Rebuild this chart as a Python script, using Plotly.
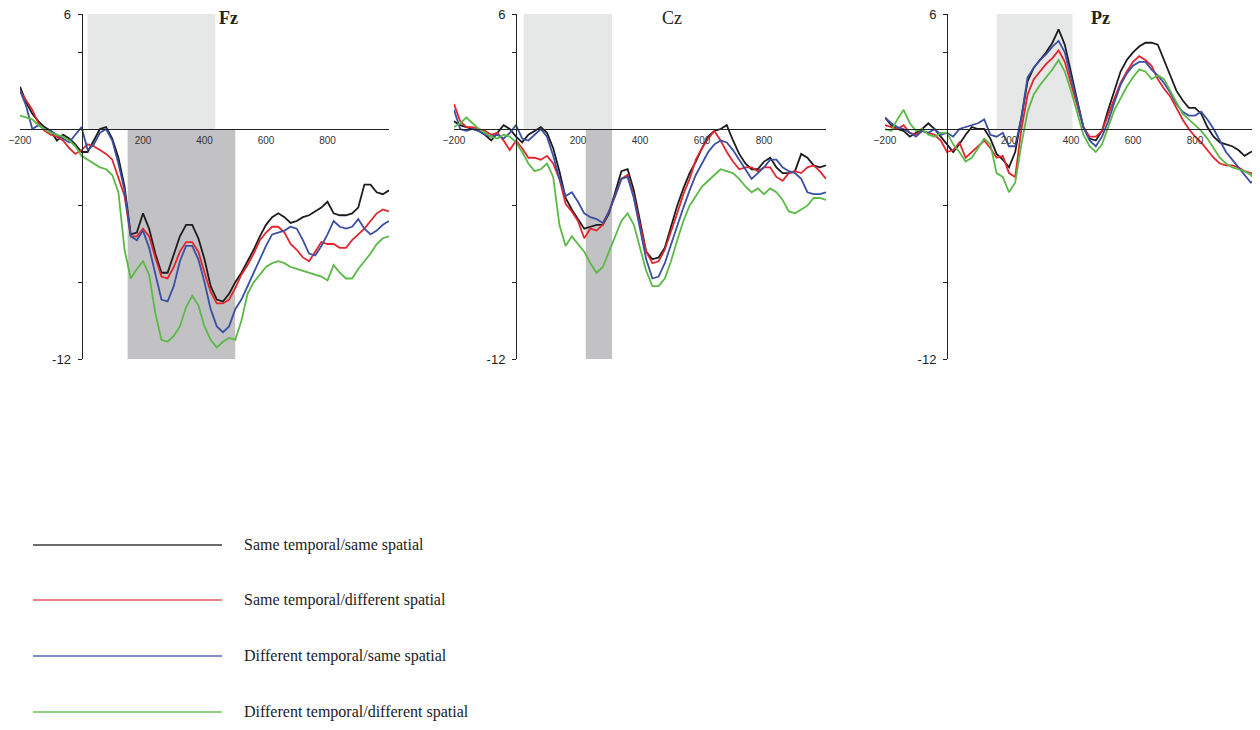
import plotly.graph_objects as go

W, H = 1260, 730
OFF = 8  # page body margin of the html page

TIME = [-200, -180, -160, -140, -120, -100, -80, -60, -40, -20,
        0, 20, 40, 60, 80, 100, 120, 140, 160, 180,
        200, 220, 240, 260, 280, 300, 320, 340, 360, 380,
        400, 420, 440, 460, 480, 500, 520, 540, 560, 580,
        600, 620, 640, 660, 680, 700, 720, 740, 760, 780,
        800, 820, 840, 860, 880, 900, 920, 940, 960, 980, 1000]

SERIES_NAMES = ["Same temporal/same spatial", "Same temporal/different spatial",
                "Different temporal/same spatial", "Different temporal/different spatial"]
COLORS = ["#1c1c1c", "#e3262e", "#3b4fa3", "#5bb947"]
LEGEND_COLORS = ["#3a3a3a", "#e05a5a", "#5a6aac", "#6cbf5c"]

# ---- Fz ----
FZ_SS = [2.2, 1.4, 0.8, 0.4, 0.1, -0.1, -0.6, -0.3, -0.5, -0.8,
         -1.2, -1.2, -0.6, 0.0, 0.1, -0.5, -1.5, -3.0, -5.5, -5.4,
         -4.4, -5.2, -6.5, -7.5, -7.5, -6.6, -5.6, -5.0, -5.0, -5.7,
         -6.8, -8.2, -8.9, -9.0, -8.6, -8.0, -7.5, -6.9, -6.3, -5.6,
         -5.0, -4.6, -4.4, -4.6, -4.9, -4.8, -4.6, -4.5, -4.3, -4.1,
         -3.8, -4.4, -4.5, -4.5, -4.4, -4.1, -2.9, -2.9, -3.3, -3.4, -3.2]
FZ_SD = [2.0, 1.5, 1.0, 0.3, -0.1, -0.3, -0.4, -0.6, -1.0, -1.3,
         -1.1, -0.8, -0.9, -1.1, -1.3, -1.6, -2.5, -3.5, -5.6, -5.6,
         -5.2, -5.6, -6.7, -7.7, -7.8, -7.2, -6.4, -5.9, -5.9, -6.4,
         -7.5, -8.5, -9.1, -9.1, -8.9, -8.3, -7.6, -7.1, -6.5, -5.8,
         -5.4, -5.1, -5.1, -5.4, -6.0, -6.3, -6.7, -6.9, -6.4, -5.9,
         -6.0, -6.0, -6.2, -6.2, -5.8, -5.5, -5.2, -4.8, -4.4, -4.2, -4.3]
FZ_DS = [2.0, 1.2, 0.0, 0.2, 0.0, -0.1, -0.3, -0.5, -0.7, -0.3,
         0.1, -1.1, -0.8, -0.2, 0.0, -0.6, -1.8, -3.2, -5.6, -5.8,
         -5.3, -6.2, -7.6, -8.9, -9.0, -8.2, -6.9, -6.1, -6.1, -6.8,
         -8.0, -9.4, -10.3, -10.6, -10.3, -9.4, -8.9, -8.2, -7.5, -6.8,
         -6.1, -5.5, -5.4, -5.3, -5.1, -5.2, -5.8, -6.5, -6.6, -6.1,
         -5.5, -4.8, -5.1, -5.2, -5.1, -4.7, -5.2, -5.5, -5.3, -5.0, -4.8]
FZ_DD = [0.7, 0.6, 0.5, 0.2, 0.0, -0.2, -0.3, -0.4, -0.6, -0.9,
         -1.4, -1.6, -1.8, -2.0, -2.1, -2.4, -3.3, -6.3, -7.8, -7.3,
         -6.9, -7.6, -9.6, -11.0, -11.1, -10.8, -10.3, -9.3, -8.7, -9.2,
         -10.3, -11.0, -11.4, -11.1, -10.9, -11.0, -10.0, -8.6, -8.0, -7.6,
         -7.2, -7.0, -6.9, -7.0, -7.2, -7.3, -7.4, -7.5, -7.6, -7.7,
         -7.9, -7.1, -7.5, -7.8, -7.8, -7.3, -6.9, -6.5, -6.0, -5.7, -5.6]

# ---- Cz ----
CZ_SS = [0.4, 0.2, 0.1, 0.0, -0.1, -0.3, -0.6, -0.2, 0.2, 0.0,
         -0.4, -0.7, -0.3, -0.1, 0.1, -0.2, -1.0, -2.2, -3.6, -4.2,
         -4.7, -5.2, -5.1, -5.0, -5.0, -4.4, -3.3, -2.2, -2.1, -3.2,
         -4.8, -6.4, -6.8, -6.7, -6.2, -5.1, -4.0, -3.1, -2.3, -1.7,
         -1.0, -0.4, -0.1, 0.0, 0.2, -0.6, -1.3, -1.8, -2.1, -2.1,
         -1.7, -1.5, -2.0, -2.3, -2.3, -2.2, -1.3, -1.5, -1.9, -2.0, -1.9]
CZ_SD = [1.3, 0.4, 0.1, 0.1, 0.0, -0.1, -0.3, -0.2, -0.6, -1.1,
         -0.6, -1.0, -1.5, -1.5, -1.6, -1.4, -1.8, -2.6, -3.9, -4.3,
         -4.8, -5.7, -5.2, -5.3, -5.0, -4.3, -3.5, -2.6, -2.4, -3.5,
         -5.0, -6.4, -7.0, -6.9, -6.3, -5.4, -4.4, -3.4, -2.6, -1.6,
         -1.0, -0.5, -0.1, -0.6, -1.2, -1.7, -2.1, -2.0, -2.0, -2.2,
         -2.0, -2.0, -2.5, -2.7, -2.3, -2.2, -2.3, -2.0, -1.9, -2.2, -2.6]
CZ_DS = [1.0, 0.0, -0.1, 0.0, -0.1, -0.3, -0.4, -0.3, -0.5, -0.2,
         0.2, -0.5, -0.6, -0.3, 0.0, -0.4, -1.4, -2.6, -3.5, -3.3,
         -3.8, -4.4, -4.6, -4.7, -4.9, -4.3, -3.4, -2.6, -2.5, -3.6,
         -5.2, -6.8, -7.8, -7.7, -7.0, -6.0, -5.0, -4.1, -3.2, -2.4,
         -1.8, -1.2, -0.8, -0.6, -0.7, -1.1, -1.6, -2.1, -2.6, -2.3,
         -2.0, -1.6, -1.6, -2.0, -2.2, -2.3, -2.6, -3.3, -3.4, -3.4, -3.3]
CZ_DD = [0.1, 0.3, 0.6, 0.3, 0.0, -0.2, -0.4, -0.5, -0.3, -0.4,
         -0.7, -1.2, -1.8, -2.2, -2.1, -1.8, -2.5, -5.0, -6.1, -5.6,
         -6.0, -6.4, -7.0, -7.5, -7.2, -6.4, -5.5, -4.8, -4.4, -5.0,
         -6.2, -7.4, -8.2, -8.2, -7.8, -6.9, -5.8, -4.8, -4.0, -3.5,
         -3.0, -2.7, -2.4, -2.1, -2.2, -2.3, -2.6, -3.0, -3.3, -3.1,
         -3.4, -3.1, -3.3, -3.7, -4.3, -4.4, -4.2, -4.0, -3.6, -3.6, -3.7]

# ---- Pz ----
PZ_SS = [0.6, 0.2, 0.0, -0.1, -0.4, -0.2, 0.0, 0.3, 0.0, -0.4,
         -0.8, -1.2, -0.8, -0.3, 0.1, 0.0, 0.0, -0.5, -1.3, -1.6,
         -2.0, -1.2, 0.6, 2.5, 3.2, 3.6, 4.0, 4.5, 5.2, 4.4,
         2.9, 1.5, 0.1, -0.5, -0.6, -0.1, 1.0, 2.0, 3.0, 3.6,
         4.0, 4.3, 4.5, 4.5, 4.4, 3.6, 2.8, 2.0, 1.5, 1.1,
         1.1, 0.8, 0.1, -0.4, -0.7, -0.8, -0.9, -1.1, -1.4, -1.2, -1.1]
PZ_SD = [0.2, 0.1, 0.0, 0.2, -0.2, -0.3, -0.1, -0.2, -0.3, -0.6,
         -1.2, -1.1, -0.7, -1.5, -1.2, -0.9, -0.6, -1.0, -1.5, -1.4,
         -2.3, -2.5, 0.0, 1.8, 2.6, 3.0, 3.4, 3.7, 4.1, 3.5,
         2.4, 1.2, 0.1, -0.4, -0.4, -0.1, 0.8, 1.6, 2.4, 3.0,
         3.5, 3.8, 3.6, 3.3, 2.6, 2.1, 1.7, 1.1, 0.5, 0.0,
         -0.4, -0.7, -1.1, -1.5, -1.8, -1.9, -1.9, -2.0, -2.2, -2.3, -2.4]
PZ_DS = [0.6, 0.3, 0.1, 0.0, -0.2, -0.4, -0.1, -0.2, 0.0, -0.3,
         -0.2, -0.4, 0.0, 0.1, 0.2, 0.3, 0.5, -0.3, -0.4, -0.2,
         -0.9, -0.9, 0.6, 2.7, 3.2, 3.6, 3.9, 4.3, 4.6, 4.0,
         2.7, 1.4, 0.1, -0.6, -0.9, -0.4, 0.4, 1.4, 2.3, 2.9,
         3.3, 3.5, 3.5, 3.1, 2.8, 2.4, 1.9, 1.3, 0.9, 0.7,
         0.7, 0.9, 0.5, 0.0, -0.6, -1.2, -1.6, -2.0, -2.4, -2.8, -2.6]
PZ_DD = [0.0, -0.1, 0.5, 1.0, 0.3, -0.1, 0.0, -0.3, -0.4, -0.2,
         -0.2, -0.8, -1.2, -1.7, -1.5, -1.0, -0.5, -0.8, -2.3, -2.5,
         -3.3, -2.8, -0.8, 0.9, 1.8, 2.3, 2.7, 3.1, 3.6, 3.0,
         2.0, 0.9, -0.3, -0.9, -1.2, -0.8, 0.1, 1.0, 1.6, 2.2,
         2.7, 3.1, 3.0, 2.6, 2.8, 2.6, 2.0, 1.4, 0.8, 0.5,
         0.2, -0.1, -0.5, -1.0, -1.5, -1.8, -2.0, -2.1, -2.2, -2.4, -2.8]

PANEL_NAMES = ["Fz", "Cz", "Pz"]
PANEL_DATA = [[FZ_SS, FZ_SD, FZ_DS, FZ_DD],
              [CZ_SS, CZ_SD, CZ_DS, CZ_DD],
              [PZ_SS, PZ_SD, PZ_DS, PZ_DD]]
# light (0..6) and dark (0..-12) significance windows, ms
LIGHT_WIN = [(20, 435), (25, 310), (160, 405)]
DARK_WIN = [(150, 500), (225, 310), None]

X_TICKS = [-200, 200, 400, 600, 800]
Y_TICKS = [6, 4, 0, -4, -8, -12]
Y_TICKTEXT = ["6", "", "", "", "", "-12"]

# ---- layout geometry (page pixels) ----
PANEL_PX = [(20, 389), (454, 826), (885, 1257)]
Y_TOP_PX, Y_BOT_PX = 14, 359
TITLE_X_PX = [228, 672, 1100]
TITLE_BOLD = [True, False, True]


def fx(px):
    return (px - OFF) / W


def fy(py):
    return 1 - (py - OFF) / H


fig = go.Figure()
SANS = "Liberation Sans, Arial, sans-serif"
SERIF = "Liberation Serif, Times New Roman, serif"

ydom = [fy(Y_BOT_PX), fy(Y_TOP_PX)]
zero_frac = ydom[0] + (ydom[1] - ydom[0]) * (12 / 18)

shapes = []
annotations = []
for i, (name, data) in enumerate(zip(PANEL_NAMES, PANEL_DATA)):
    k = "" if i == 0 else str(i + 1)
    x0, x1 = PANEL_PX[i]
    xdom = [fx(x0), fx(x1)]
    yaxis_pos = xdom[0] + (xdom[1] - xdom[0]) * (200 / 1200)
    for s, series in enumerate(data):
        fig.add_trace(go.Scatter(x=TIME, y=series, mode="lines",
                                 line=dict(color=COLORS[s], width=1.8),
                                 name=SERIES_NAMES[s], showlegend=False,
                                 xaxis="x" + k, yaxis="y" + k))
    fig.update_layout(**{
        "xaxis" + k: dict(domain=xdom, range=[-200, 1000], anchor="free",
                          position=zero_frac, showline=True, linecolor="#222",
                          linewidth=1, showgrid=False, zeroline=False, automargin=False,
                          tickvals=X_TICKS, ticks="", ticklabelstandoff=2,
                          ticklabeloverflow="allow",
                          tickfont=dict(size=10, color="#333", family=SANS)),
        "yaxis" + k: dict(domain=ydom, range=[-12, 6], anchor="free",
                          position=yaxis_pos, showline=True, linecolor="#222",
                          linewidth=1, showgrid=False, zeroline=False, automargin=False,
                          tickvals=Y_TICKS, ticktext=Y_TICKTEXT, ticks="outside",
                          ticklen=4, tickcolor="#222", ticklabelstandoff=4,
                          ticklabeloverflow="allow",
                          tickfont=dict(size=13, color="#222", family=SANS)),
    })
    lw = LIGHT_WIN[i]
    shapes.append(dict(type="rect", xref="x" + k, yref="y" + k, x0=lw[0], x1=lw[1],
                       y0=0, y1=6, fillcolor="#e6e7e7", line=dict(width=0), layer="below"))
    dw = DARK_WIN[i]
    if dw is not None:
        shapes.append(dict(type="rect", xref="x" + k, yref="y" + k, x0=dw[0], x1=dw[1],
                           y0=-12, y1=0, fillcolor="#c2c2c4", line=dict(width=0), layer="below"))
    title_txt = "<b>%s</b>" % name if TITLE_BOLD[i] else name
    annotations.append(dict(text=title_txt, xref="paper", yref="paper",
                            x=fx(TITLE_X_PX[i]), y=fy(18), showarrow=False,
                            xanchor="center", yanchor="middle",
                            font=dict(size=18, family=SERIF, color="#222")))

# manual legend
LEG_Y_PX = [545, 600, 656, 712]
for s in range(4):
    yf = fy(LEG_Y_PX[s])
    shapes.append(dict(type="line", xref="paper", yref="paper", x0=fx(33), x1=fx(222),
                       y0=yf, y1=yf, line=dict(color=LEGEND_COLORS[s], width=1.3)))
    annotations.append(dict(text=SERIES_NAMES[s], xref="paper", yref="paper",
                            x=fx(242), y=yf, showarrow=False, xanchor="left", yanchor="middle",
                            font=dict(size=16, family=SERIF, color="#222")))

fig.update_layout(width=W, height=H, margin=dict(l=0, r=0, t=0, b=0, autoexpand=False),
                  paper_bgcolor="white", plot_bgcolor="white",
                  shapes=shapes, annotations=annotations, showlegend=False)

fig.write_html("out.html")
